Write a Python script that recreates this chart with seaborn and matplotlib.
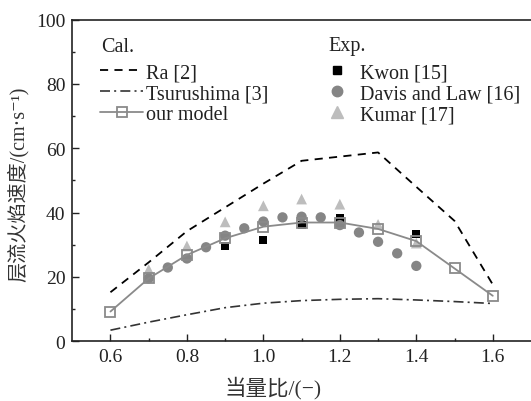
import numpy as np
import pandas as pd
import matplotlib
matplotlib.use("Agg")
import matplotlib.pyplot as plt
from matplotlib.lines import Line2D
import seaborn as sns

# ---- data ----
phi_calc = [0.6, 0.7, 0.8, 0.9, 1.0, 1.1, 1.2, 1.3, 1.4, 1.5, 1.6]
ra_vals = [15.2, 24.5, 34.2, 41.6, 49.0, 56.1, 57.4, 58.7, 48.0, 37.4, 17.6]
tsu_vals = [3.4, 5.9, 8.2, 10.4, 11.8, 12.6, 13.0, 13.2, 12.8, 12.3, 11.7]
model_vals = [9.2, 19.5, 26.8, 32.0, 35.6, 36.9, 36.9, 34.9, 31.1, 22.6, 14.1]

kwon_phi = [0.9, 1.0, 1.1, 1.2, 1.4]
kwon_vals = [29.5, 31.4, 36.2, 38.2, 33.4]

davis_phi = [0.7, 0.75, 0.8, 0.85, 0.9, 0.95, 1.0, 1.05, 1.1, 1.15, 1.2, 1.25, 1.3, 1.35, 1.4]
davis_vals = [19.5, 22.9, 25.7, 29.2, 32.8, 35.1, 37.2, 38.5, 38.7, 38.5, 36.1, 33.8, 30.9, 27.3, 23.4]

kumar_phi = [0.7, 0.8, 0.9, 1.0, 1.1, 1.2, 1.3, 1.4]
kumar_vals = [22.3, 29.6, 37.1, 42.1, 44.2, 42.6, 36.3, 30.5]

x_ticks = [0.6, 0.8, 1.0, 1.2, 1.4, 1.6]
y_ticks = [0, 20, 40, 60, 80, 100]

sns.set_style("ticks")
LAT = ["Liberation Serif", "Noto Sans CJK SC", "DejaVu Serif"]
plt.rcParams["font.family"] = LAT
plt.rcParams["axes.unicode_minus"] = False

fig = plt.figure(figsize=(5.31, 4.02), dpi=100)
ax = fig.add_axes([0.136, 0.149, 0.864, 0.7995])

c_model = "#8a8a8a"
c_davis = "#858585"
c_kumar = "#bdbdbd"
ls_ra = (0, (4.5, 3.5))
ls_tsu = (0, (6, 2.5, 1.2, 2.5))

sns.lineplot(x=phi_calc, y=ra_vals, ax=ax, color="black", lw=1.3,
             linestyle=ls_ra, zorder=2)
sns.lineplot(x=phi_calc, y=tsu_vals, ax=ax, color="#333333", lw=1.2,
             linestyle=ls_tsu, zorder=2)

sns.scatterplot(x=kumar_phi, y=kumar_vals, ax=ax, marker="^", s=60,
                color=c_kumar, edgecolor="none", zorder=3)
sns.scatterplot(x=kwon_phi, y=kwon_vals, ax=ax, marker="s", s=34,
                color="black", edgecolor="none", zorder=4)
sns.scatterplot(x=davis_phi, y=davis_vals, ax=ax, marker="o", s=55,
                color=c_davis, edgecolor="none", zorder=4)

sns.lineplot(x=phi_calc, y=model_vals, ax=ax, color=c_model, lw=1.3,
             marker="s", markersize=7, markerfacecolor="none",
             markeredgecolor=c_model, markeredgewidth=1.3, zorder=5)

ax.set_xlim(0.5, 1.7)
ax.set_ylim(0, 100)
ax.set_xticks(x_ticks)
ax.set_xticklabels([f"{v:.1f}" for v in x_ticks])
ax.set_xticks([0.7, 0.9, 1.1, 1.3, 1.5], minor=True)
ax.set_yticks(y_ticks)
ax.set_yticks([10, 30, 50, 70, 90], minor=True)
ax.tick_params(which="major", direction="in", length=5, width=1,
               labelsize=14, pad=5, colors="#222222")
ax.tick_params(which="minor", direction="in", length=2.5, width=1, colors="#222222")
for lab in ax.get_xticklabels() + ax.get_yticklabels():
    lab.set_fontfamily(LAT)
for s in ["left", "bottom", "top"]:
    ax.spines[s].set_linewidth(1.2)
    ax.spines[s].set_color("#222222")
ax.spines["right"].set_visible(False)

ax.set_xlabel("当量比/(−)", fontsize=15.5, family=LAT, color="#333333")
ax.set_ylabel("层流火焰速度/(cm·s⁻¹)", fontsize=14.5, family=LAT, color="#333333")
ax.xaxis.set_label_coords(0.4375, -0.108)
ax.yaxis.set_label_coords(-0.095, 0.49)

# legends
FS = 14.5
h_cal = [
    Line2D([], [], color="black", lw=1.3, linestyle=ls_ra),
    Line2D([], [], color="#333333", lw=1.2, linestyle=ls_tsu),
    Line2D([], [], color=c_model, lw=1.3, marker="s", markersize=7,
           markerfacecolor="none", markeredgecolor=c_model, markeredgewidth=1.3),
]
l_cal = ["Ra [2]", "Tsurushima [3]", "our model"]
h_exp = [
    Line2D([], [], color="black", marker="s", linestyle="none", markersize=5.5),
    Line2D([], [], color=c_davis, marker="o", linestyle="none", markersize=7.5),
    Line2D([], [], color=c_kumar, marker="^", linestyle="none", markersize=8),
]
l_exp = ["Kwon [15]", "Davis and Law [16]", "Kumar [17]"]

fig.text(101 / 531, 1 - 47 / 402, "Cal.", fontsize=FS, family=LAT, color="#222222",
         ha="left", va="center")
fig.text(328 / 531, 1 - 47 / 402, "Exp.", fontsize=FS, family=LAT, color="#222222",
         ha="left", va="center")

leg1 = ax.legend(h_cal, l_cal, loc="upper left",
                 bbox_to_anchor=(100 / 531, 1 - 64 / 402), bbox_transform=fig.transFigure,
                 frameon=False, borderpad=0, borderaxespad=0, handlelength=2.15,
                 handletextpad=0.15, labelspacing=0.1, prop={"family": LAT, "size": FS})
for t in leg1.get_texts():
    t.set_color("#222222")
ax.add_artist(leg1)
leg2 = ax.legend(h_exp, l_exp, loc="upper left",
                 bbox_to_anchor=(329 / 531, 1 - 64 / 402), bbox_transform=fig.transFigure,
                 frameon=False, borderpad=0, borderaxespad=0, handlelength=0.8,
                 handletextpad=0.75, labelspacing=0.1, prop={"family": LAT, "size": FS})
for t in leg2.get_texts():
    t.set_color("#222222")

fig.savefig("out.png", dpi=100)
